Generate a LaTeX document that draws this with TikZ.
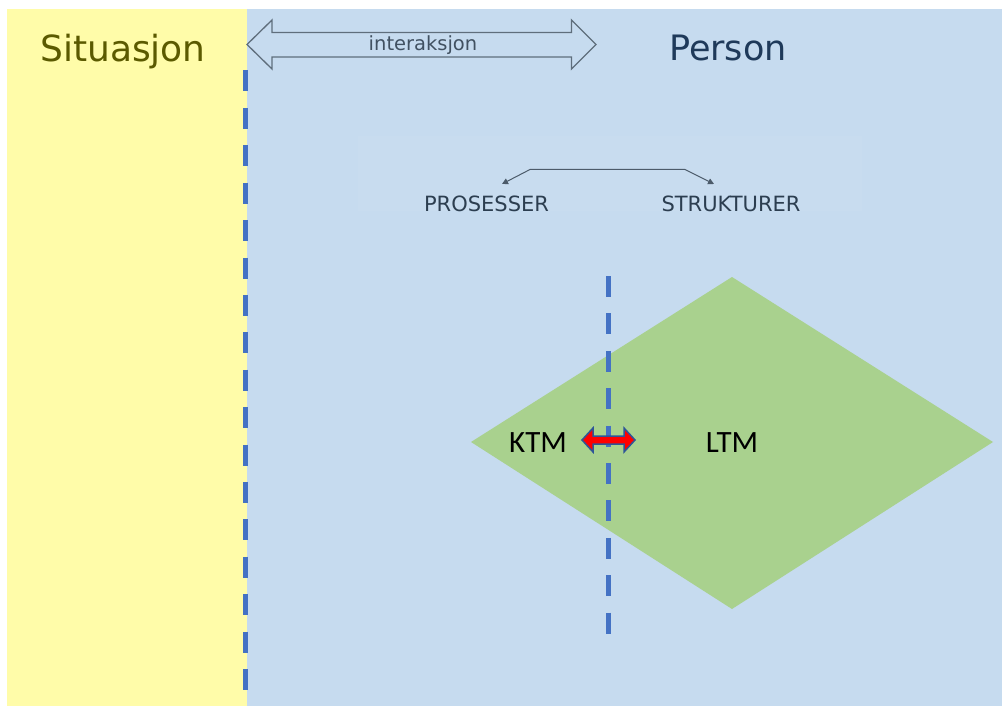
\documentclass[tikz,border=0pt]{standalone}
\usepackage{fontspec}
\setmainfont{DejaVu Sans}
\newfontfamily\calfont{Carlito}
\usetikzlibrary{arrows.meta}

\definecolor{sitbg}{HTML}{FFFCA9}
\definecolor{perbg}{HTML}{C6DBEF}
\definecolor{ltmgreen}{HTML}{A9D18E}
\definecolor{dashblue}{HTML}{4472C4}
\definecolor{sittext}{HTML}{5B5A00}
\definecolor{pertext}{HTML}{1F3A5A}
\definecolor{slate}{HTML}{2C3E50}
\definecolor{outlinegray}{HTML}{5F6E7C}
\definecolor{arrowblue}{HTML}{2F5597}

\tikzset{
  boundary/.style={draw=dashblue, line width=5pt, dash pattern=on 21pt off 16.4pt},
  headline/.style={anchor=base, inner sep=0pt, font=\fontsize{35}{40}\selectfont},
  capslabel/.style={anchor=base, inner sep=0pt, text=slate, font=\fontsize{21}{24}\selectfont},
  memlabel/.style={anchor=base, inner sep=0pt, text=black, font=\calfont\fontsize{31}{36}\selectfont},
  smallarrow/.style={draw=slate!85, line width=1pt,
    {Triangle[length=6pt,width=6pt]}-{Triangle[length=6pt,width=6pt]}},
}

\begin{document}
\begin{tikzpicture}[x=1pt,y=-1pt]
  % page and the two regions
  \fill[white] (0,0) rectangle (1002,706);
  \useasboundingbox (0,0) rectangle (1002,706);
  \fill[sitbg] (7,9) rectangle (247,706);
  \fill[perbg] (247,9) rectangle (1002,706);

  % faint panel behind the process/structure labels
  \fill[white, opacity=0.035] (358,136) rectangle (862,211);

  % long-term memory area
  \fill[ltmgreen] (471,442) -- (732,277) -- (993,442) -- (732,609) -- cycle;

  % boundary lines
  \draw[boundary] (245,70.5) -- (245,706);
  \draw[boundary] (608,276) -- (608,640);

  % interaction arrow
  \draw[outlinegray, line width=1.3pt, fill=perbg, line join=miter]
    (247,44.5) -- (272,20) -- (272,32.5) -- (571.5,32.5) -- (571.5,20) -- (596,44.5)
    -- (571.5,69) -- (571.5,57) -- (272,57) -- (272,69) -- cycle;
  \node[anchor=base, inner sep=0pt, text=slate!90, font=\fontsize{19.5}{22}\selectfont]
    (inter) at (423,50.7) {interaksjon};

  % headings
  \node[headline, text=sittext, font=\fontsize{36}{40}\selectfont] (sit) at (123,61.5) {Situasjon};
  \node[headline, text=pertext] (per) at (728,61) {Person};

  % processes and structures
  \node[capslabel] (pros) at (486.5,211.5) {PROSESSER};
  \node[capslabel] (struk) at (731,211.5) {STRUKTURER};
  \coordinate (tipL) at (502,184);
  \coordinate (hubL) at (530,169.5);
  \coordinate (hubR) at (685,169.5);
  \coordinate (tipR) at (714,184);
  \draw[smallarrow] (tipL) -- (hubL) -- (hubR) -- (tipR);

  % memory exchange arrow
  \draw[arrowblue, line width=1.5pt, fill=red, line join=miter]
    (582,440) -- (593,428) -- (593,436) -- (624,436) -- (624,428) -- (635,440)
    -- (624,452) -- (624,444) -- (593,444) -- (593,452) -- cycle;

  % memory labels
  \node[memlabel] (ktm) at (538,452.7) {KTM};
  \node[memlabel] (ltm) at (732,452.7) {LTM};
\end{tikzpicture}
\end{document}
